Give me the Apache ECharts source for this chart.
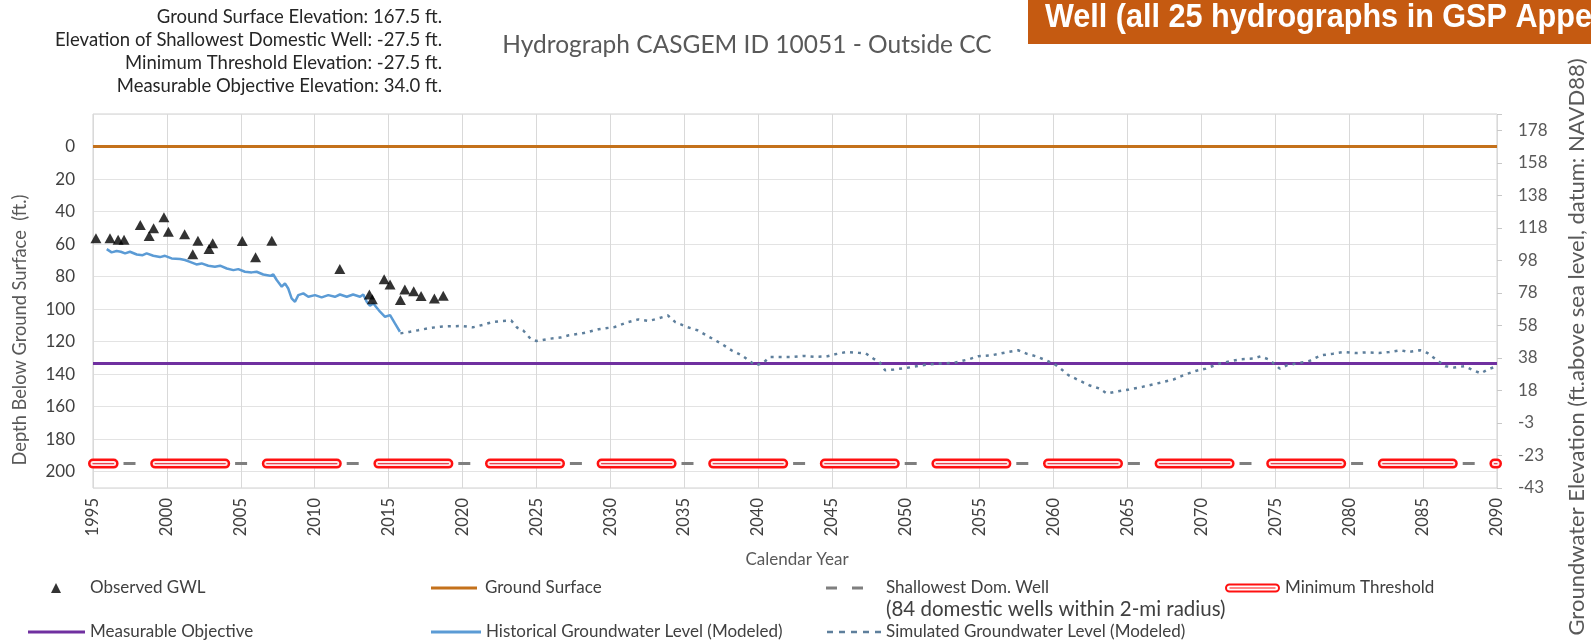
<!DOCTYPE html>
<html>
<head>
<meta charset="utf-8">
<title>Hydrograph CASGEM ID 10051</title>
<script src="https://cdn.jsdelivr.net/npm/echarts@6/dist/echarts.min.js"></script>
<style>
  html, body { margin: 0; padding: 0; background: #fff; }
  #chart { width: 1591px; height: 642px; }
</style>
</head>
<body>
<div id="chart"></div>
<script>
// well facts (ft, elevation NAVD88)
const groundSurfaceElev = 167.5
const shallowWellElev = -27.5
const minThresholdElev = -27.5
const measurableObjElev = 34.0

// x axis (calendar year)
const yearMin = 1995
const yearMax = 2090

// observed groundwater levels, depth below ground surface
const obsYears = [1995.2, 1996.15, 1996.7, 1997.1, 1998.2, 1998.8, 1999.1, 1999.8, 2000.1, 2001.2,
  2001.75, 2002.1, 2002.85, 2003.1, 2005.1, 2006.0, 2007.1, 2011.7, 2013.7, 2013.9,
  2014.7, 2015.1, 2015.8, 2016.1, 2016.7, 2017.2, 2018.1, 2018.7]
const obsDepth = [56.4, 56.4, 57.4, 57.4, 48.3, 55.1, 50.3, 43.5, 52.4, 54.0,
  66.3, 57.9, 63.0, 59.5, 58.1, 68.1, 57.9, 75.3, 91.0, 94.0,
  81.7, 84.8, 94.4, 87.9, 89.0, 92.0, 93.5, 91.7]

// historical modeled level
const histYears = [1995.93, 1996.26, 1996.6, 1996.88, 1997.17, 1997.5, 1997.96, 1998.36, 1998.63, 1999.08,
  1999.53, 1999.87, 2000.32, 2000.89, 2001.22, 2001.56, 2002.0, 2002.35, 2002.8, 2003.25,
  2003.6, 2004.05, 2004.5, 2004.83, 2005.28, 2005.74, 2006.07, 2006.52, 2006.98, 2007.2,
  2007.43, 2007.77, 2007.99, 2008.21, 2008.44, 2008.67, 2008.89, 2009.23, 2009.57, 2010.02,
  2010.47, 2010.92, 2011.37, 2011.71, 2012.17, 2012.6, 2013.07, 2013.29, 2013.52, 2013.74,
  2013.97, 2014.42, 2014.76, 2015.1, 2015.43, 2015.77]
const histDepth = [63.1, 65.1, 64.3, 64.7, 65.7, 64.7, 66.4, 66.8, 65.7, 67.2,
  68.0, 67.2, 68.8, 69.2, 69.8, 70.9, 72.5, 71.9, 73.3, 73.9,
  73.3, 75.0, 76.0, 75.4, 77.0, 77.4, 77.0, 78.7, 79.5, 78.7,
  82.1, 86.2, 84.2, 87.3, 93.4, 95.5, 91.4, 90.3, 92.4, 91.4,
  92.8, 91.4, 92.4, 91.0, 92.4, 91.0, 92.4, 91.0, 95.5, 97.9,
  96.5, 101.6, 104.7, 103.7, 108.8, 113.9]

// simulated modeled level
const simYears = [2015.8, 2016.4, 2017.0, 2017.8, 2018.5, 2019.2, 2020.0, 2020.7, 2021.4, 2022.0,
  2022.65, 2023.3, 2023.7, 2024.1, 2024.6, 2025.0, 2025.9, 2026.6, 2027.2, 2028.2,
  2029.2, 2030.3, 2031.2, 2031.9, 2032.6, 2033.2, 2033.9, 2034.4, 2035.2, 2035.9,
  2036.7, 2037.5, 2038.2, 2038.9, 2039.5, 2039.8, 2040.3, 2040.8, 2041.6, 2042.4,
  2043.1, 2043.9, 2044.7, 2045.2, 2046.0, 2046.8, 2047.3, 2047.8, 2048.2, 2048.6,
  2049.2, 2050.1, 2051.1, 2052.2, 2053.2, 2054.2, 2054.9, 2055.8, 2056.8, 2057.6,
  2058.2, 2058.8, 2059.5, 2060.0, 2060.4, 2061.0, 2061.6, 2062.4, 2063.1, 2063.6,
  2064.2, 2065.1, 2066.0, 2067.0, 2068.1, 2068.8, 2069.6, 2070.3, 2071.2, 2071.9,
  2072.7, 2073.5, 2074.0, 2074.6, 2075.3, 2075.8, 2076.6, 2077.3, 2078.1, 2078.9,
  2079.6, 2080.4, 2081.2, 2082.0, 2082.7, 2083.5, 2084.0, 2084.8, 2085.3, 2085.8,
  2086.5, 2087.1, 2087.8, 2088.4, 2088.9, 2089.4, 2090.0]
const simDepth = [114.9, 114.0, 113.0, 111.6, 110.8, 110.5, 110.4, 111.2, 109.6, 108.0,
  107.3, 107.0, 111.4, 113.0, 118.2, 119.6, 118.2, 117.5, 116.1, 114.7,
  112.4, 111.0, 108.0, 106.3, 107.3, 105.9, 103.9, 108.0, 111.0, 113.0,
  117.1, 121.2, 125.3, 128.4, 132.4, 134.5, 133.5, 129.4, 129.4, 129.4,
  128.8, 129.4, 129.0, 127.8, 126.3, 126.9, 127.3, 130.4, 132.4, 137.6,
  137.1, 136.1, 134.5, 133.5, 133.1, 131.0, 129.0, 128.4, 126.6, 125.3,
  127.5, 129.0, 131.5, 133.5, 136.0, 140.6, 143.3, 146.8, 148.8, 151.9,
  150.8, 149.4, 147.8, 145.7, 143.3, 140.6, 138.0, 136.6, 133.5, 132.1,
  130.8, 130.4, 129.0, 131.1, 136.6, 134.5, 133.1, 131.9, 128.4, 127.4,
  126.4, 127.0, 126.6, 127.0, 126.4, 125.3, 126.4, 125.3, 127.0, 130.4,
  135.1, 135.9, 135.1, 137.6, 139.5, 137.0, 135.1]

const infoLines = [
  'Ground Surface Elevation: 167.5 ft.',
  'Elevation of Shallowest Domestic Well: -27.5 ft.',
  'Minimum Threshold Elevation: -27.5 ft.',
  'Measurable Objective Elevation: 34.0 ft.'
]

const depthOf = elev => groundSurfaceElev - elev
const zip = (xs, ys) => xs.map((x, i) => [x, ys[i]])
const flat = d => [[yearMin, d], [yearMax, d]]

const FONT = 'Lato, "Noto Sans", sans-serif'
const C_GROUND = '#C4711B'
const C_MO = '#7030A0'
const C_HIST = '#5B9BD5'
const C_SIM = '#5E7F9C'
const C_RED = '#FF1010'
const C_GRAY = '#7F7F7F'

function lg(name, left, top, icon, w, h, color, pad) {
  return {
    data: [{ name: name, icon: icon, itemStyle: { color: color, borderWidth: 0 } }],
    left: left, top: top, padding: 0, itemWidth: w, itemHeight: h,
    selectedMode: false, symbolKeepAspect: false,
    textStyle: { fontFamily: FONT, fontSize: 17, color: '#404040', lineHeight: 20, padding: [0, 0, 0, pad] }
  }
}

function txt(text, x, y, opt) {
  opt = opt || {}
  return {
    type: 'text', x: x, y: y, rotation: opt.rot || 0, scaleX: opt.sx || 1, silent: true,
    style: {
      text: text, x: 0, y: 0,
      fill: opt.color || '#595959',
      font: (opt.weight || 'normal') + ' ' + (opt.size || 16) + 'px ' + (opt.family || FONT),
      align: opt.align || 'left', textAlign: opt.align || 'left',
      verticalAlign: 'middle', textVerticalAlign: 'middle'
    }
  }
}

const capsulePath = 'path://M4.5,0 H50.5 A4.5,4.5 0 0 1 50.5,9 H4.5 A4.5,4.5 0 0 1 4.5,0 Z ' +
  'M4.5,2 A2.5,2.5 0 0 0 4.5,7 H50.5 A2.5,2.5 0 0 0 50.5,2 Z M4.5,4 H50.5 V5 H4.5 Z'
const twoDashPath = 'path://M0,0h11v3h-11z M26,0h11v3h-11z'
const dotDashPath = 'path://M0,0h6v2.5h-6z M12,0h6v2.5h-6z M24,0h6v2.5h-6z M36,0h6v2.5h-6z M48,0h6v2.5h-6z'

const chart = echarts.init(document.getElementById('chart'), null, { renderer: 'canvas' })

const option = {
  animation: false,
  backgroundColor: '#ffffff',
  grid: {
    left: 93, right: 94, top: 114, bottom: 154,
    show: true, borderColor: '#d0d0d0', borderWidth: 1,
    containLabel: false, outerBoundsMode: 'none'
  },
  xAxis: {
    type: 'value', min: yearMin, max: yearMax, interval: 5,
    axisLine: { show: false }, axisTick: { show: false },
    splitLine: { show: true, lineStyle: { color: '#d9d9d9', width: 1 } },
    axisLabel: {
      rotate: 90, margin: 10, fontFamily: FONT, fontSize: 16.5, color: '#404040',
      formatter: v => String(v)
    }
  },
  yAxis: [
    {
      type: 'value', inverse: true, min: -20, max: 210, interval: 20, position: 'left',
      axisLine: { show: false }, axisTick: { show: false },
      splitLine: { show: true, lineStyle: { color: '#e3e3e3', width: 1 } },
      axisLabel: {
        margin: 18, fontFamily: FONT, fontSize: 17, color: '#404040',
        formatter: v => (v < 0 || v > 200) ? '' : String(v)
      }
    },
    {
      type: 'value', min: depthOf(210), max: depthOf(-20), interval: 20, position: 'right',
      axisLine: { show: false },
      axisTick: { show: true, length: 5, lineStyle: { color: '#c8c8c8' } },
      splitLine: { show: false },
      axisLabel: {
        margin: 21, fontFamily: FONT, fontSize: 17, color: '#595959',
        formatter: v => v > 180 ? '' : String(Math.sign(v) * Math.round(Math.abs(v)))
      }
    }
  ],
  legend: [
    lg('Observed GWL', 51, 578, 'triangle', 10, 10, '#000000', 24),
    lg('Ground Surface', 431, 578, 'rect', 46, 3, C_GROUND, 3),
    lg('Shallowest Dom. Well', 826, 578, twoDashPath, 37, 3, C_GRAY, 18),
    lg('Minimum Threshold', 1225, 578, capsulePath, 55, 9, C_RED, 0),
    lg('Measurable Objective', 28, 622, 'rect', 57, 3, C_MO, 0),
    lg('Historical Groundwater Level (Modeled)', 431, 622, 'rect', 50, 3, C_HIST, 0),
    lg('Simulated Groundwater Level (Modeled)', 827, 622, dotDashPath, 54, 2.5, C_SIM, 0)
  ],
  graphic: [
    { type: 'rect', silent: true, shape: { x: 1028, y: 0, width: 563, height: 44 }, style: { fill: '#C55A11' } },
    txt('Well (all 25 hydrographs in GSP Appendix)', 1045, 18,
      { color: '#ffffff', size: 34, sx: 0.9, weight: 'bold', family: '"Liberation Sans Narrow", "Arial Narrow", "Liberation Sans", sans-serif' }),
    txt(infoLines[0], 442, 17, { align: 'right', color: '#262626', size: 18.5 }),
    txt(infoLines[1], 442, 40, { align: 'right', color: '#262626', size: 18.5 }),
    txt(infoLines[2], 442, 63, { align: 'right', color: '#262626', size: 18.5 }),
    txt(infoLines[3], 442, 86, { align: 'right', color: '#262626', size: 18.5 }),
    txt('Hydrograph CASGEM ID 10051 - Outside CC', 747, 45, { align: 'center', size: 24.5 }),
    txt('Depth Below Ground Surface  (ft.)', 20, 330, { align: 'center', size: 18.3, rot: Math.PI / 2 }),
    txt('Groundwater Elevation (ft.above sea level, datum: NAVD88)', 1577, 347, { align: 'center', size: 22, rot: Math.PI / 2 }),
    txt('Calendar Year', 797, 560, { align: 'center', size: 17 }),
    txt('(84 domestic wells within 2-mi radius)', 886, 609, { color: '#404040', size: 20.5 })
  ],
  series: [
    {
      name: 'Ground Surface', type: 'line', data: flat(depthOf(groundSurfaceElev)),
      symbol: 'none', color: C_GROUND, lineStyle: { color: C_GROUND, width: 3 }, z: 2
    },
    {
      name: 'Measurable Objective', type: 'line', data: flat(depthOf(measurableObjElev)),
      symbol: 'none', color: C_MO, lineStyle: { color: C_MO, width: 3 }, z: 2
    },
    {
      name: 'Shallowest Dom. Well', type: 'line', data: flat(depthOf(shallowWellElev)),
      symbol: 'none', color: C_GRAY,
      lineStyle: { color: C_GRAY, width: 3, type: [12, 43.8], dashOffset: 25.3, cap: 'butt' }, z: 2
    },
    {
      name: 'Minimum Threshold', type: 'line', data: flat(depthOf(minThresholdElev)),
      symbol: 'none', color: C_RED,
      lineStyle: { color: C_RED, width: 10, type: [70, 41.6], dashOffset: 49.4, cap: 'round' }, z: 3
    },
    {
      name: 'mt-inner', type: 'line', data: flat(depthOf(minThresholdElev)),
      symbol: 'none', color: '#FFE8E8',
      lineStyle: { color: '#FFE8E8', width: 5, type: [70, 41.6], dashOffset: 49.4, cap: 'round' }, z: 3
    },
    {
      name: 'mt-core', type: 'line', data: flat(depthOf(minThresholdElev)),
      symbol: 'none', color: '#E8424E',
      lineStyle: { color: '#E8424E', width: 1.4, type: [70, 41.6], dashOffset: 49.4, cap: 'round' }, z: 3
    },
    {
      name: 'Simulated Groundwater Level (Modeled)', type: 'line', data: zip(simYears, simDepth),
      symbol: 'none', color: C_SIM, lineStyle: { color: C_SIM, width: 2.5, type: [3, 5] }, z: 4
    },
    {
      name: 'Historical Groundwater Level (Modeled)', type: 'line', data: zip(histYears, histDepth),
      symbol: 'none', color: C_HIST, lineStyle: { color: C_HIST, width: 2.5 }, z: 4
    },
    {
      name: 'Observed GWL', type: 'scatter', data: zip(obsYears, obsDepth),
      symbol: 'triangle', symbolSize: [11, 10], itemStyle: { color: '#000000' }, z: 5
    }
  ]
}

chart.setOption(option)
window.addEventListener('resize', () => chart.resize())
</script>
</body>
</html>
